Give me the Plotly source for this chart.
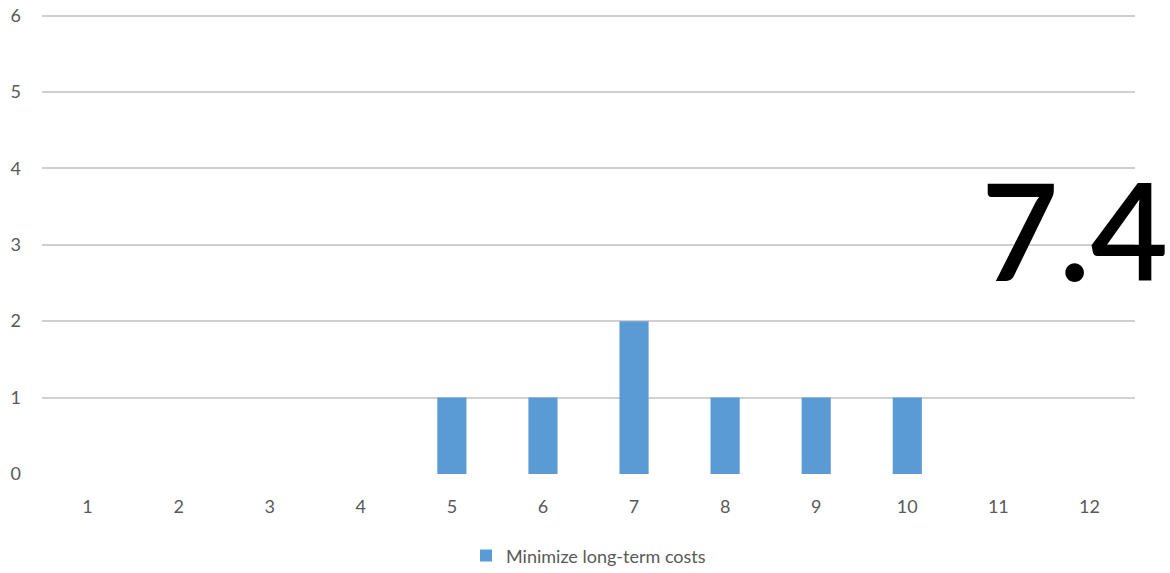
import plotly.graph_objects as go

categories = [str(i) for i in range(1, 13)]
values = [0, 0, 0, 0, 1, 1, 2, 1, 1, 1, 0, 0]
series_name = "Minimize long-term costs"
big_label = "7.4"

fig = go.Figure()
fig.add_trace(go.Bar(
    x=categories, y=values, name=series_name,
    marker=dict(color="#5B9BD5", line=dict(width=0)),
    width=0.32,
))

W, H = 1170, 573
ml, mr, mt, mb = 42, 35, 14, 99

fig.update_layout(
    width=W, height=H,
    margin=dict(l=ml, r=mr, t=mt, b=mb, autoexpand=False),
    paper_bgcolor="white", plot_bgcolor="white",
    font=dict(family="Lato, Liberation Sans, sans-serif", size=18, color="#595959"),
    showlegend=True,
    legend=dict(orientation="h", x=0.5, xanchor="center", y=-0.178, yanchor="middle",
                font=dict(size=18, color="#595959"), itemsizing="constant"),
    xaxis=dict(type="category", showgrid=False, showline=False, zeroline=False,
               ticks="", ticklabelstandoff=20, tickfont=dict(size=18, color="#595959")),
    yaxis=dict(range=[0, 6.02], tickvals=[0, 1, 2, 3, 4, 5, 6], showgrid=True,
               gridcolor="#D0D0D0", gridwidth=2,
               zeroline=False, showline=False, ticks="", ticklabelstandoff=20,
               tickfont=dict(size=18, color="#595959")),
)

fig.add_annotation(
    text=big_label, xref="paper", yref="paper",
    x=(1074 - ml) / (W - ml - mr), y=1 - (229 - mt) / (H - mt - mb),
    xanchor="center", yanchor="middle", showarrow=False,
    font=dict(family="Lato, Open Sans, sans-serif", size=134, color="black", weight=600),
)

fig.write_html("out.html", config={"displayModeBar": False},
               post_script="document.body.style.margin='0';document.body.style.padding='0';")
